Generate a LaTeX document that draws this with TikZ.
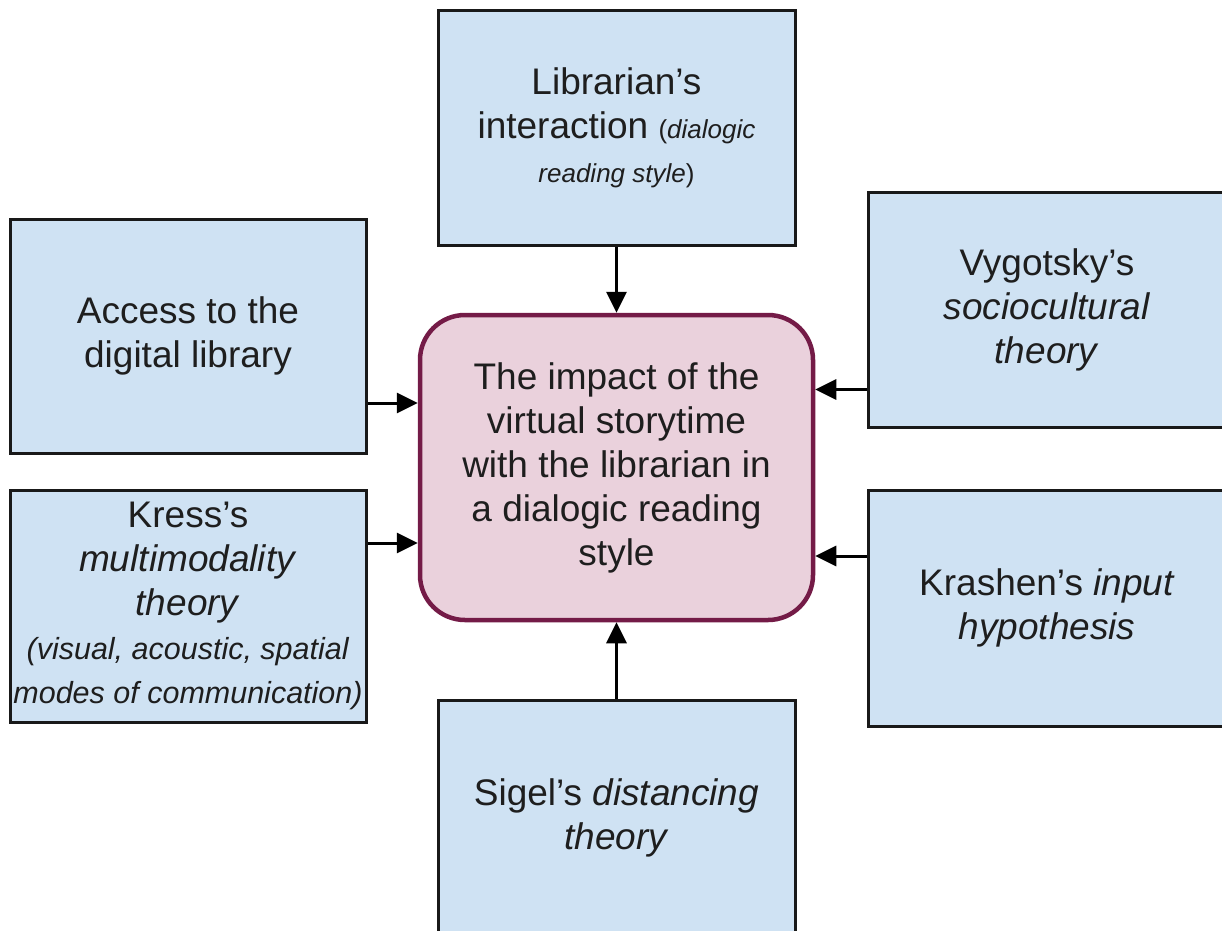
\documentclass[tikz,border=0pt]{standalone}
\usepackage{fontspec}
\setmainfont{Liberation Sans}
\usetikzlibrary{arrows.meta,positioning,calc}
\definecolor{boxblue}{HTML}{CFE2F3}
\definecolor{hubpink}{HTML}{EAD1DC}
\definecolor{hubline}{HTML}{741B47}
\definecolor{inktxt}{HTML}{1E1E1E}

\newcommand{\bigtxt}{\fontsize{37}{44}\selectfont}
\newcommand{\smalltxt}{\fontsize{26}{34}\selectfont}
\newcommand{\notetxt}{\fontsize{30.5}{35}\selectfont}

\begin{document}
\begin{tikzpicture}[x=1pt, y=-1pt, font=\bigtxt, text=inktxt,
  theory/.style={draw=black!90, fill=boxblue, line width=3pt, inner sep=0pt,
    minimum width=357pt, minimum height=235pt, align=center},
  hub/.style={draw=hubline, fill=hubpink, line width=4.5pt, rounded corners=45pt,
    inner sep=0pt, minimum width=393pt, minimum height=305pt, align=center},
  feed/.style={-{Triangle[length=21pt,width=20pt]}, line width=3pt, black}]
  \useasboundingbox (0,0) rectangle (1222,930);

  % centre
  \node[hub] (impact) at (616.5,467.5)
    {The impact of the\\virtual storytime\\with the librarian in\\a dialogic reading\\style};

  % surrounding theories
  \node[theory] (librarian) at (616.5,127.5)
    {Librarian's\\interaction {\smalltxt(\textit{dialogic}}\\{\smalltxt\textit{reading style})}};
  \node[theory, minimum width=356pt, minimum height=234pt] (access) at (188,336)
    {Access to the\\digital library};
  \node[theory, minimum width=356pt, minimum height=232pt] (kress) at (188,606)
    {Kress's\\\textit{multimodality}\\\textit{theory}\\
     {\notetxt\textit{(visual, acoustic, spatial}}\\{\notetxt\textit{modes of communication)}}};
  \node[theory, minimum width=358pt] (vygotsky) at (1047,309.5)
    {Vygotsky's\\\textit{sociocultural}\\\textit{theory}};
  \node[theory, minimum width=358pt, minimum height=236pt] (krashen) at (1047,608)
    {Krashen’s \textit{input}\\\textit{hypothesis}};
  \node[theory] (sigel) at (616.5,817.5)
    {Sigel’s \textit{distancing}\\\textit{theory}};

  % arrows into the centre
  \draw[feed] (librarian) -- (impact);
  \draw[feed] (sigel) -- (impact);
  \coordinate (accout) at ([yshift=-67pt]access.east);
  \draw[feed] (accout) -- (accout -| impact.west);
  \coordinate (kresout) at ([yshift=63pt]kress.east);
  \draw[feed] (kresout) -- (kresout -| impact.west);
  \coordinate (vygout) at ([yshift=-80pt]vygotsky.west);
  \draw[feed] (vygout) -- (vygout -| impact.east);
  \coordinate (kraout) at ([yshift=52pt]krashen.west);
  \draw[feed] (kraout) -- (kraout -| impact.east);
\end{tikzpicture}
\end{document}
